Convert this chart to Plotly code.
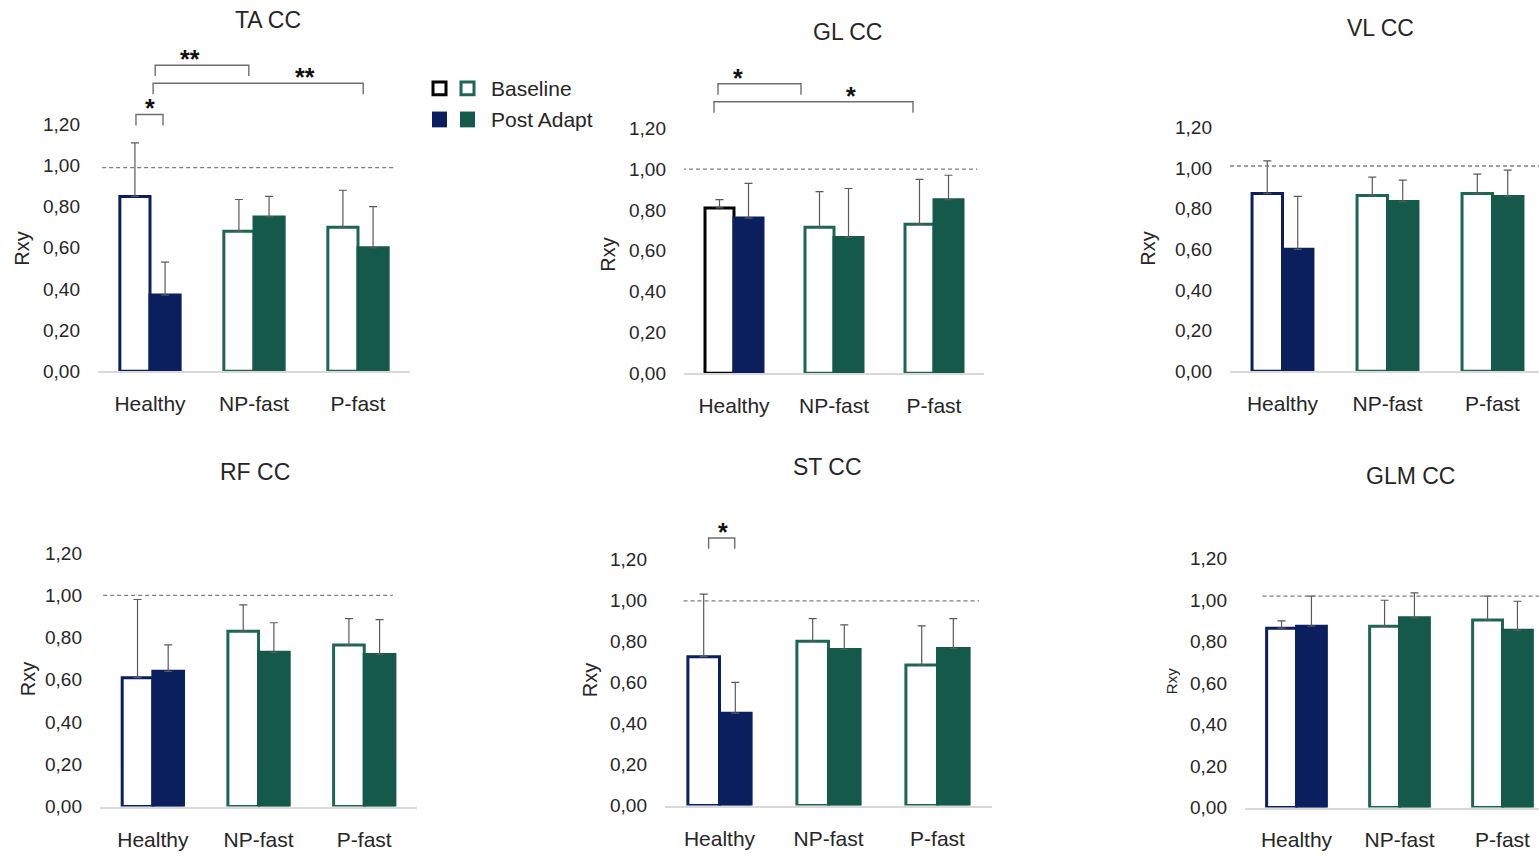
import plotly.graph_objects as go

W, H = 1539, 861

categories = ["Healthy", "NP-fast", "P-fast"]
panel_titles = ["TA CC", "GL CC", "VL CC", "RF CC", "ST CC", "GLM CC"]
series_names = ["Baseline", "Post Adapt"]
y_ticks = [0.0, 0.2, 0.4, 0.6, 0.8, 1.0, 1.2]

# Rxy means and upper SD, per muscle panel
ta_base = [0.85, 0.68, 0.70]
ta_base_sd = [0.26, 0.155, 0.18]
ta_post = [0.37, 0.75, 0.60]
ta_post_sd = [0.16, 0.10, 0.20]

gl_base = [0.81, 0.715, 0.73]
gl_base_sd = [0.04, 0.175, 0.22]
gl_post = [0.76, 0.665, 0.85]
gl_post_sd = [0.17, 0.24, 0.12]

vl_base = [0.875, 0.865, 0.875]
vl_base_sd = [0.16, 0.09, 0.095]
vl_post = [0.60, 0.835, 0.86]
vl_post_sd = [0.26, 0.105, 0.13]

rf_base = [0.61, 0.83, 0.765]
rf_base_sd = [0.37, 0.125, 0.125]
rf_post = [0.64, 0.73, 0.72]
rf_post_sd = [0.125, 0.14, 0.165]

st_base = [0.725, 0.80, 0.685]
st_base_sd = [0.305, 0.11, 0.19]
st_post = [0.45, 0.76, 0.765]
st_post_sd = [0.15, 0.12, 0.145]

glm_base = [0.865, 0.875, 0.905]
glm_base_sd = [0.035, 0.125, 0.115]
glm_post = [0.875, 0.915, 0.855]
glm_post_sd = [0.145, 0.12, 0.14]

# reference (dashed) line level per panel
ref_levels = [0.99, 1.0, 1.01, 1.0, 0.997, 1.02]

# significance brackets per panel: (x0, x1, y, label, label_x)
ta_sig = [(-0.135, 0.125, 1.248, "*", 0.0), (0.05, 0.95, 1.488, "**", 0.385), (0.03, 2.05, 1.40, "**", 1.49)]
gl_sig = [(-0.16, 0.67, 1.418, "*", 0.04), (-0.2, 1.79, 1.33, "*", 1.17)]
st_sig = [(-0.10, 0.14, 1.303, "*", 0.03)]

panels = [
    (ta_base, ta_base_sd, ta_post, ta_post_sd, ta_sig),
    (gl_base, gl_base_sd, gl_post, gl_post_sd, gl_sig),
    (vl_base, vl_base_sd, vl_post, vl_post_sd, []),
    (rf_base, rf_base_sd, rf_post, rf_post_sd, []),
    (st_base, st_base_sd, st_post, st_post_sd, st_sig),
    (glm_base, glm_base_sd, glm_post, glm_post_sd, []),
]

# layout geometry (pixels): x_left, px per category, x_right, y_baseline, px per unit, y_top
geom = [
    (98, 104, 410, 376, 208.3, 40),
    (684, 100, 984, 378, 206.7, 40),
    (1230, 105, 1539, 376, 205.8, 40),
    (100, 105.7, 417, 817, 214, 500),
    (665, 109, 992, 816, 208, 500),
    (1245, 103, 1539, 818, 210, 500),
]
title_pos = [(268, 20), (847, 32), (1380, 28), (255, 478), (827, 473), (1410, 482)]
ylabel_pos = [(22, 252), (608, 258), (1148, 252), (28, 688), (590, 689), (1171, 690)]
ylabel_size = [20, 20, 20, 20, 20, 15]
dash_x = [(-0.46, 2.34), (-0.52, 2.43), (-0.5, 2.45), (-0.47, 2.27), (-0.33, 2.38), (-0.33, 2.36)]

NAVY = "#0b1f5e"
GREEN = "#14594a"
GREEN_LINE = "#1c6653"
FONT = "Arial, Liberation Sans, sans-serif"
TXT = "#262626"

fig = go.Figure()
shapes = []
annotations = []

for i, (base, base_sd, post, post_sd, sig) in enumerate(panels):
    n = "" if i == 0 else str(i + 1)
    xl, unit, xr, yb, ppu, ytop = geom[i]
    xmax = -0.5 + (xr - xl) / unit
    ymax = (yb - ytop) / ppu
    xdom = [xl / W, xr / W]
    ydom = [1 - yb / H, 1 - ytop / H]
    base_line = [NAVY, GREEN_LINE, GREEN_LINE]
    if i == 1:
        base_line = ["#000000", GREEN_LINE, GREEN_LINE]
    fig.add_trace(go.Bar(
        x=categories, y=base, name=series_names[0], xaxis="x" + n, yaxis="y" + n,
        marker=dict(color="white", line=dict(color=base_line, width=3)),
        error_y=dict(type="data", symmetric=False, array=base_sd, arrayminus=[0] * 3,
                     color="#5a5a5a", thickness=1.2, width=4),
        showlegend=False,
    ))
    fig.add_trace(go.Bar(
        x=categories, y=post, name=series_names[1], xaxis="x" + n, yaxis="y" + n,
        marker=dict(color=[NAVY, GREEN, GREEN], line=dict(color=[NAVY, GREEN, GREEN], width=3)),
        error_y=dict(type="data", symmetric=False, array=post_sd, arrayminus=[0] * 3,
                     color="#5a5a5a", thickness=1.2, width=4),
        showlegend=False,
    ))
    fig.layout["xaxis" + n] = dict(
        domain=xdom, range=[-0.5, xmax], anchor="y" + n, type="category",
        showline=True, linecolor="#d9d9d9", linewidth=1.5, showgrid=False, zeroline=False,
        ticks="", tickfont=dict(family=FONT, size=21, color=TXT), ticklabelstandoff=13,
        fixedrange=True,
    )
    fig.layout["yaxis" + n] = dict(
        domain=ydom, range=[0, ymax], anchor="x" + n,
        tickvals=y_ticks, tickformat=".2f", showline=False, showgrid=False, zeroline=False,
        ticks="", tickfont=dict(family=FONT, size=19, color=TXT), ticklabelstandoff=17,
        fixedrange=True,
    )
    xr_ = "x" + n
    yr_ = "y" + n
    # dashed reference line
    shapes.append(dict(type="line", xref=xr_, yref=yr_, x0=dash_x[i][0], x1=dash_x[i][1],
                       y0=ref_levels[i], y1=ref_levels[i],
                       line=dict(color="#7f7f7f", width=1.3, dash="4px,3px")))
    # significance brackets
    leg = 11 / ppu
    for (x0, x1, y, lab, lx) in sig:
        shapes.append(dict(type="path", xref=xr_, yref=yr_,
                           path=f"M {x0},{y - leg} L {x0},{y} L {x1},{y} L {x1},{y - leg}",
                           line=dict(color="#6e6e6e", width=1.4)))
        annotations.append(dict(x=lx, y=y - 10 / ppu, xref=xr_, yref=yr_, text="<b>" + lab + "</b>",
                                showarrow=False, yanchor="bottom",
                                font=dict(family=FONT, size=25, color="#111")))
    # title
    tx, ty = title_pos[i]
    annotations.append(dict(x=tx / W, y=1 - ty / H, xref="paper", yref="paper", text=panel_titles[i],
                            showarrow=False, xanchor="center", yanchor="middle",
                            font=dict(family=FONT, size=23, color=TXT)))
    lx_, ly_ = ylabel_pos[i]
    annotations.append(dict(x=lx_ / W, y=1 - ly_ / H, xref="paper", yref="paper", text="Rxy",
                            showarrow=False, textangle=-90, xanchor="center", yanchor="middle",
                            font=dict(family=FONT, size=ylabel_size[i], color=TXT)))

# legend drawn as swatches
def sq(x0, y0, x1, y1, fill, line, lw):
    return dict(type="rect", xref="paper", yref="paper", x0=x0 / W, x1=x1 / W,
                y0=1 - y1 / H, y1=1 - y0 / H, fillcolor=fill, line=dict(color=line, width=lw))

shapes += [
    sq(433, 83, 446, 96, "white", "#000000", 3),
    sq(461, 83, 474, 96, "white", GREEN_LINE, 3),
    sq(432, 113, 447, 129, NAVY, NAVY, 0),
    sq(460, 113, 475, 129, GREEN, GREEN, 0),
]
annotations.append(dict(x=489 / W, y=1 - 90 / H, xref="paper", yref="paper", text="Baseline",
                        showarrow=False, xanchor="left", yanchor="middle",
                        font=dict(family=FONT, size=21, color=TXT)))
annotations.append(dict(x=489 / W, y=1 - 121 / H, xref="paper", yref="paper", text="Post Adapt",
                        showarrow=False, xanchor="left", yanchor="middle",
                        font=dict(family=FONT, size=21, color=TXT)))

fig.update_layout(
    width=W, height=H, margin=dict(l=0, r=0, t=0, b=0),
    paper_bgcolor="white", plot_bgcolor="white",
    barmode="group", bargap=0.42, bargroupgap=0,
    separators=",.", shapes=shapes, annotations=annotations,
    showlegend=False, font=dict(family=FONT),
)

fig.write_html("out.html")
